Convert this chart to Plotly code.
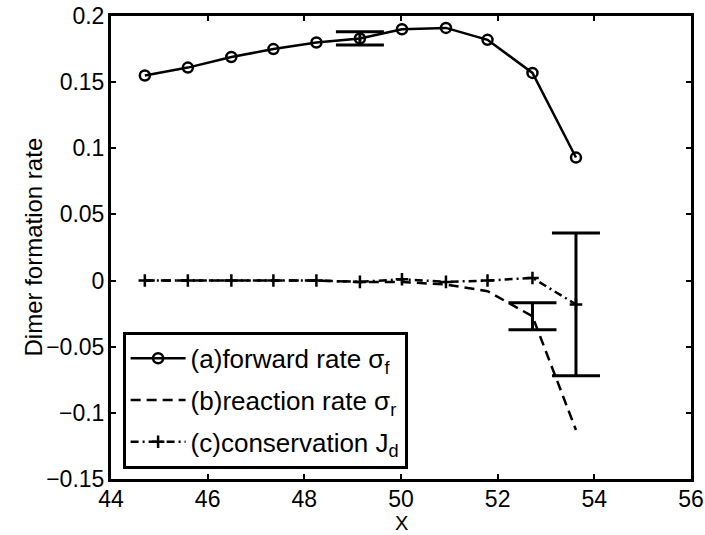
import plotly.graph_objects as go

x_vals = [44.70, 45.59, 46.49, 47.36, 48.25, 49.15, 50.02, 50.93, 51.79, 52.72, 53.62]
forward_rate = [0.155, 0.161, 0.169, 0.175, 0.180, 0.183, 0.190, 0.191, 0.182, 0.157, 0.093]
reaction_rate = [0.000, 0.000, 0.000, 0.000, 0.000, -0.001, -0.001, -0.003, -0.008, -0.027, -0.113]
conservation = [0.000, 0.000, 0.000, 0.000, 0.000, -0.001, 0.001, -0.001, 0.000, 0.002, -0.018]

# error bars (index into the series, half-length)
fwd_err_idx, fwd_err = 5, 0.005
rea_err_idx, rea_err = 9, 0.0102
con_err_idx, con_err = 10, 0.054

x_ticks = [44, 46, 48, 50, 52, 54, 56]
y_ticks = [-0.15, -0.1, -0.05, 0, 0.05, 0.1, 0.15, 0.2]
y_tick_text = ["\u22120.15", "\u22120.1", "\u22120.05", "0", "0.05", "0.1", "0.15", "0.2"]

FONT = "Liberation Sans, Arial, sans-serif"
W, H = 705, 535
ML, MR, MT, MB = 111, 14, 16, 56

fig = go.Figure()

fig.add_trace(go.Scatter(
    x=x_vals, y=forward_rate, mode="lines+markers",
    name="(a)forward rate \u03c3<sub>f</sub>", legendgroup="a",
    line=dict(color="black", width=2.5),
    marker=dict(symbol="circle-open", size=10, color="black", line=dict(width=2.5)),
))
fig.add_trace(go.Scatter(
    x=x_vals, y=reaction_rate, mode="lines",
    name="(b)reaction rate \u03c3<sub>r</sub>", legendgroup="b",
    line=dict(color="black", width=2.5, dash="10px,6px"),
))
fig.add_trace(go.Scatter(
    x=x_vals, y=conservation, mode="lines+markers",
    name="(c)conservation J<sub>d</sub>", legendgroup="c",
    line=dict(color="black", width=2.5, dash="8px,4px,2px,4px"),
    marker=dict(symbol="cross-thin-open", size=9, color="black", line=dict(width=2.5, color="black")),
))

def err_trace(xv, yv, e):
    return go.Scatter(
        x=[xv], y=[yv], mode="markers", showlegend=False,
        marker=dict(size=1, opacity=0),
        error_y=dict(type="data", array=[e], visible=True, color="black", thickness=3, width=24),
        hoverinfo="skip",
    )

fig.add_trace(err_trace(x_vals[fwd_err_idx], forward_rate[fwd_err_idx], fwd_err))
fig.add_trace(err_trace(x_vals[rea_err_idx], reaction_rate[rea_err_idx], rea_err))
fig.add_trace(err_trace(x_vals[con_err_idx], conservation[con_err_idx], con_err))

axis_common = dict(
    showline=True, linecolor="black", linewidth=3, mirror="allticks",
    ticks="inside", ticklen=5, tickwidth=2, tickcolor="black",
    showgrid=False, zeroline=False, automargin=False,
)

fig.update_xaxes(
    range=[44, 56], tickvals=x_ticks, ticktext=[str(v) for v in x_ticks],
    ticklabelstandoff=-3, tickfont=dict(family=FONT, size=23, color="black"),
    **axis_common,
)
fig.update_yaxes(
    range=[-0.15, 0.2], tickvals=y_ticks, ticktext=y_tick_text,
    ticklabelstandoff=-1, tickfont=dict(family=FONT, size=23, color="black"),
    **axis_common,
)

plot_h = H - MT - MB
fig.add_annotation(
    text="X", xref="paper", yref="paper", x=0.5, y=-(523 - (H - MB)) / plot_h,
    xanchor="center", yanchor="middle", showarrow=False,
    font=dict(family=FONT, size=20, color="black"),
)
fig.add_annotation(
    text="Dimer formation rate", xref="paper", yref="paper",
    x=-(ML - 33) / (W - ML - MR), y=0.5, textangle=-90,
    xanchor="center", yanchor="middle", showarrow=False,
    font=dict(family=FONT, size=24, color="black"),
)

fig.update_layout(
    width=W, height=H,
    margin=dict(l=ML, r=MR, t=MT, b=MB),
    paper_bgcolor="white", plot_bgcolor="white",
    font=dict(family=FONT, size=23, color="black"),
    legend=dict(
        x=0.02, y=0.022, xanchor="left", yanchor="bottom",
        bordercolor="black", borderwidth=3, bgcolor="white",
        font=dict(family=FONT, size=26, color="black"),
        tracegroupgap=5, itemwidth=55,
    ),
    showlegend=True,
)

fig.write_html("out.html")
